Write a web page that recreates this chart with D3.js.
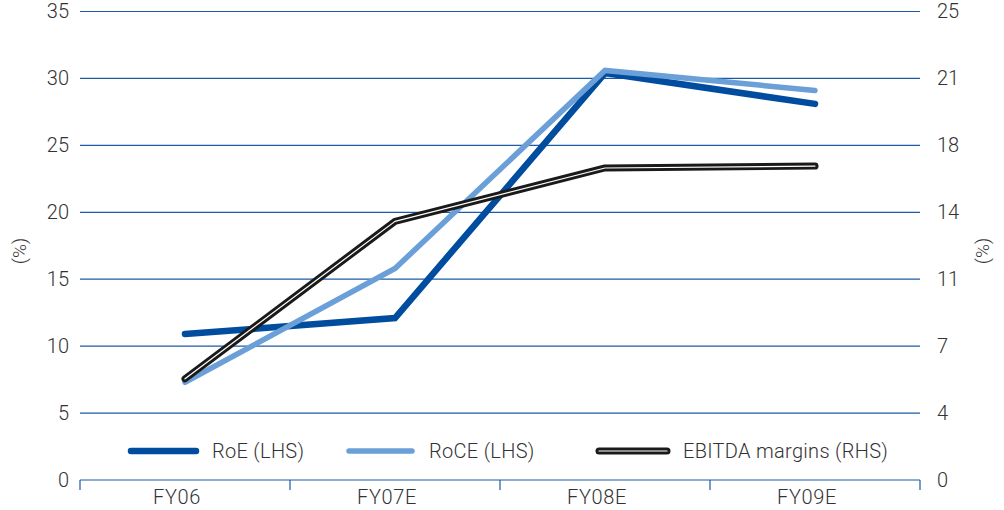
<!DOCTYPE html>
<html>
<head>
<meta charset="utf-8">
<script src="https://cdn.jsdelivr.net/npm/d3@7"></script>
<style>
  html, body { margin: 0; padding: 0; background: #fff; }
  svg { display: block; }
  text { font-family: Roboto, "Liberation Sans", sans-serif; font-weight: 300; fill: #333; }
</style>
</head>
<body>
<svg id="chart" width="1004" height="510"></svg>
<script>
// Fiscal years on the category axis
const categories = ["FY06", "FY07E", "FY08E", "FY09E"];
// Return ratios, % (left axis)
const roe = [10.9, 12.1, 30.4, 28.1];
const roce = [7.3, 15.8, 30.6, 29.1];
// EBITDA margin, % (right axis)
const ebitda = [5.4, 13.8, 16.65, 16.75];
// Axis ticks
const leftTicks = [0, 5, 10, 15, 20, 25, 30, 35];
const rightTickCount = 7; // 0..25 in seven equal steps

const svg = d3.select("#chart");
const plotLeft = 80, plotRight = 920, plotTop = 11.5, plotBottom = 480;

const x = d3.scaleBand().domain(categories).range([plotLeft, plotRight]);
const yL = d3.scaleLinear().domain([0, 35]).range([plotBottom, plotTop]);
const yR = d3.scaleLinear().domain([0, 25]).range([plotBottom, plotTop]);
const rightTicks = d3.range(rightTickCount + 1).map(i => 25 * i / rightTickCount);

const gridColor = "#1c5aa6";
const fontFam = "Roboto, 'Liberation Sans', sans-serif";

// Horizontal gridlines
svg.append("g").selectAll("line")
  .data(leftTicks.filter(d => d > 0))
  .join("line")
  .attr("x1", plotLeft).attr("x2", plotRight)
  .attr("y1", d => yL(d)).attr("y2", d => yL(d))
  .attr("stroke", gridColor).attr("stroke-width", 1.2);

// Category axis with tick marks at band boundaries
const xAxis = svg.append("g").attr("transform", `translate(0,${plotBottom})`)
  .call(d3.axisBottom(x).tickSize(0).tickPadding(10));
xAxis.select(".domain").remove();
xAxis.selectAll("text").attr("font-size", 20).attr("dy", "0.71em").attr("dx", -8)
  .style("letter-spacing", "0.6px")
  .style("font-family", fontFam).style("font-weight", 300).attr("fill", "#333");
svg.append("line").attr("x1", plotLeft).attr("x2", plotRight).attr("y1", plotBottom).attr("y2", plotBottom)
  .attr("stroke", gridColor).attr("stroke-width", 1.2);
const edges = categories.map(c => x(c)).concat([plotRight]);
svg.append("g").selectAll("line").data(edges).join("line")
  .attr("x1", d => d).attr("x2", d => d)
  .attr("y1", plotBottom).attr("y2", plotBottom + 10)
  .attr("stroke", gridColor).attr("stroke-width", 1.2);

// Left axis labels
const la = svg.append("g").attr("transform", `translate(${plotLeft},0)`)
  .call(d3.axisLeft(yL).tickValues(leftTicks).tickSize(0).tickPadding(11));
la.select(".domain").remove();
la.selectAll("text").attr("font-size", 20)
  .style("font-family", fontFam).style("font-weight", 300).attr("fill", "#333");

// Right axis labels (rounded)
const ra = svg.append("g").attr("transform", `translate(${plotRight},0)`)
  .call(d3.axisRight(yR).tickValues(rightTicks).tickSize(0).tickPadding(17).tickFormat(d => Math.round(d)));
ra.select(".domain").remove();
ra.selectAll("text").attr("font-size", 20)
  .style("font-family", fontFam).style("font-weight", 300).attr("fill", "#333");

// Axis titles
svg.append("text").attr("transform", "translate(26,251) rotate(-90)")
  .attr("text-anchor", "middle").attr("font-size", 19).text("(%)");
svg.append("text").attr("transform", "translate(989,251) rotate(-90)")
  .attr("text-anchor", "middle").attr("font-size", 19).text("(%)");

const cx = c => x(c) + x.bandwidth() / 2;
const lineL = d3.line().x((d, i) => cx(categories[i])).y(d => yL(d));
const lineR = d3.line().x((d, i) => cx(categories[i])).y(d => yR(d));

const roeColor = "#004c9e", roceColor = "#6a9fd8";

svg.append("path").attr("d", lineL(roe)).attr("fill", "none")
  .attr("stroke", roeColor).attr("stroke-width", 6.5)
  .attr("stroke-linecap", "round").attr("stroke-linejoin", "miter");
svg.append("path").attr("d", lineL(roce)).attr("fill", "none")
  .attr("stroke", roceColor).attr("stroke-width", 5.5)
  .attr("stroke-linecap", "round").attr("stroke-linejoin", "miter");
// EBITDA: black line with a thin white core
svg.append("path").attr("d", lineR(ebitda)).attr("fill", "none")
  .attr("stroke", "#1a1a1a").attr("stroke-width", 7)
  .attr("stroke-linecap", "round").attr("stroke-linejoin", "round");
svg.append("path").attr("d", lineR(ebitda)).attr("fill", "none")
  .attr("stroke", "#ffffff").attr("stroke-width", 1.2)
  .attr("stroke-linecap", "round").attr("stroke-linejoin", "round");

// Legend
const legend = [
  { label: "RoE (LHS)", color: roeColor, w: 6.5, x0: 131, x1: 196, tx: 212, core: false },
  { label: "RoCE (LHS)", color: roceColor, w: 5.5, x0: 349, x1: 412, tx: 429, core: false },
  { label: "EBITDA margins (RHS)", color: "#1a1a1a", w: 7, x0: 599, x1: 667, tx: 683, core: true }
];
const ly = 451;
const lg = svg.append("g").selectAll("g").data(legend).join("g");
lg.append("line").attr("x1", d => d.x0).attr("x2", d => d.x1).attr("y1", ly).attr("y2", ly)
  .attr("stroke", d => d.color).attr("stroke-width", d => d.w).attr("stroke-linecap", "round");
lg.filter(d => d.core).append("line").attr("x1", d => d.x0).attr("x2", d => d.x1).attr("y1", ly).attr("y2", ly)
  .attr("stroke", "#fff").attr("stroke-width", 1.2).attr("stroke-linecap", "round");
lg.append("text").attr("x", d => d.tx).attr("y", ly).attr("dy", "0.35em")
  .attr("font-size", 20).style("letter-spacing", "0.3px").text(d => d.label);
</script>
</body>
</html>
